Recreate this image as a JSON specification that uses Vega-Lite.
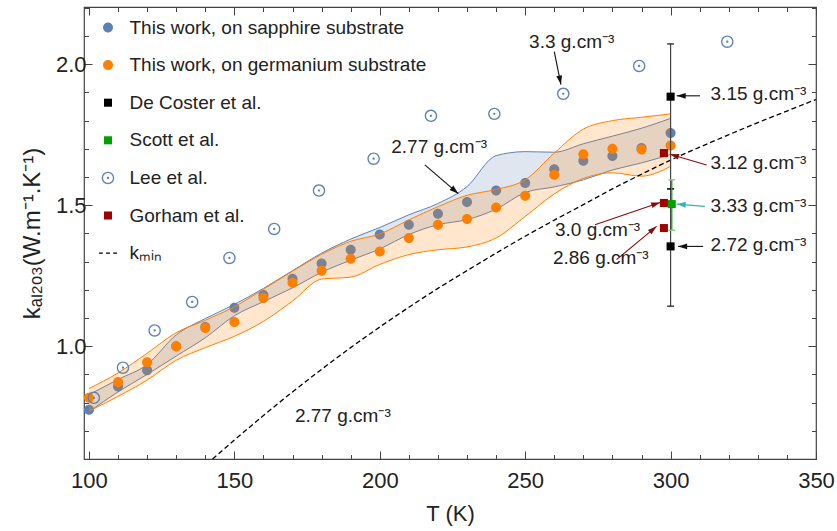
{
  "$schema": "https://vega.github.io/schema/vega-lite/v6.json",
  "width": 732,
  "height": 452,
  "autosize": {"type": "none"},
  "padding": {"left": 84, "top": 7, "right": 21, "bottom": 72},
  "config": {
    "view": {"stroke": "#444", "strokeWidth": 1.2},
    "font": "Liberation Sans",
    "legend": {
      "orient": "none",
      "legendX": 14.5,
      "legendY": 11,
      "labelFont": "Liberation Sans",
      "labelFontSize": 19,
      "labelColor": "#222",
      "labelLimit": 500,
      "labelOffset": 12,
      "rowPadding": 17.6,
      "symbolSize": 169,
      "symbolStrokeWidth": 0,
      "symbolOpacity": 1
    },
    "text": {"font": "Liberation Sans"}
  },
  "datasets": {
    "sap": [
      {"T": 100, "k": 0.775, "lo": 0.768, "hi": 0.828},
      {"T": 110, "k": 0.857, "lo": 0.838, "hi": 0.882},
      {"T": 120, "k": 0.915, "lo": 0.900, "hi": 0.935},
      {"T": 130, "k": 1.000, "lo": 0.965, "hi": 1.040},
      {"T": 140, "k": 1.068, "lo": 1.030, "hi": 1.098},
      {"T": 150, "k": 1.136, "lo": 1.108, "hi": 1.148},
      {"T": 160, "k": 1.182, "lo": 1.158, "hi": 1.205},
      {"T": 170, "k": 1.239, "lo": 1.207, "hi": 1.268},
      {"T": 180, "k": 1.293, "lo": 1.262, "hi": 1.330},
      {"T": 190, "k": 1.342, "lo": 1.305, "hi": 1.380},
      {"T": 200, "k": 1.396, "lo": 1.345, "hi": 1.421},
      {"T": 210, "k": 1.431, "lo": 1.396, "hi": 1.466},
      {"T": 220, "k": 1.470, "lo": 1.431, "hi": 1.506},
      {"T": 230, "k": 1.511, "lo": 1.449, "hi": 1.566},
      {"T": 240, "k": 1.552, "lo": 1.486, "hi": 1.676},
      {"T": 250, "k": 1.579, "lo": 1.545, "hi": 1.690},
      {"T": 260, "k": 1.628, "lo": 1.565, "hi": 1.688},
      {"T": 270, "k": 1.658, "lo": 1.590, "hi": 1.718},
      {"T": 280, "k": 1.675, "lo": 1.625, "hi": 1.745},
      {"T": 290, "k": 1.703, "lo": 1.650, "hi": 1.773},
      {"T": 300, "k": 1.756, "lo": 1.680, "hi": 1.808}
    ],
    "ger": [
      {"T": 100, "k": 0.817, "lo": 0.770, "hi": 0.850},
      {"T": 110, "k": 0.873, "lo": 0.822, "hi": 0.905},
      {"T": 120, "k": 0.943, "lo": 0.880, "hi": 0.975},
      {"T": 130, "k": 1.000, "lo": 0.950, "hi": 1.048},
      {"T": 140, "k": 1.065, "lo": 0.995, "hi": 1.092},
      {"T": 150, "k": 1.086, "lo": 1.035, "hi": 1.140},
      {"T": 160, "k": 1.171, "lo": 1.088, "hi": 1.202},
      {"T": 170, "k": 1.225, "lo": 1.160, "hi": 1.266},
      {"T": 180, "k": 1.268, "lo": 1.238, "hi": 1.326},
      {"T": 190, "k": 1.310, "lo": 1.245, "hi": 1.372},
      {"T": 200, "k": 1.336, "lo": 1.290, "hi": 1.398},
      {"T": 210, "k": 1.384, "lo": 1.325, "hi": 1.448},
      {"T": 220, "k": 1.431, "lo": 1.342, "hi": 1.495},
      {"T": 230, "k": 1.451, "lo": 1.352, "hi": 1.535},
      {"T": 240, "k": 1.492, "lo": 1.384, "hi": 1.556},
      {"T": 250, "k": 1.534, "lo": 1.460, "hi": 1.590},
      {"T": 260, "k": 1.608, "lo": 1.540, "hi": 1.685},
      {"T": 270, "k": 1.681, "lo": 1.595, "hi": 1.770},
      {"T": 280, "k": 1.700, "lo": 1.615, "hi": 1.800},
      {"T": 290, "k": 1.698, "lo": 1.603, "hi": 1.812},
      {"T": 300, "k": 1.712, "lo": 1.638, "hi": 1.824}
    ],
    "kmin": [
      {"T": 142.5, "k": 0.600}, {"T": 150, "k": 0.667}, {"T": 160, "k": 0.754},
      {"T": 170, "k": 0.838}, {"T": 180, "k": 0.918}, {"T": 190, "k": 0.995},
      {"T": 200, "k": 1.068}, {"T": 210, "k": 1.138}, {"T": 220, "k": 1.205},
      {"T": 230, "k": 1.268}, {"T": 240, "k": 1.330}, {"T": 250, "k": 1.390},
      {"T": 260, "k": 1.447}, {"T": 270, "k": 1.502}, {"T": 280, "k": 1.558},
      {"T": 290, "k": 1.610}, {"T": 300, "k": 1.660}, {"T": 310, "k": 1.706},
      {"T": 320, "k": 1.750}, {"T": 330, "k": 1.793}, {"T": 340, "k": 1.834},
      {"T": 350, "k": 1.875}
    ],
    "lee": [
      {"T": 101.7, "k": 0.817}, {"T": 111.7, "k": 0.924}, {"T": 122.6, "k": 1.056},
      {"T": 135.5, "k": 1.157}, {"T": 148.3, "k": 1.313}, {"T": 163.7, "k": 1.416},
      {"T": 179.1, "k": 1.552}, {"T": 197.9, "k": 1.665}, {"T": 217.6, "k": 1.817},
      {"T": 239.4, "k": 1.824}, {"T": 263.1, "k": 1.895}, {"T": 289.2, "k": 1.994},
      {"T": 319.5, "k": 2.080}
    ],
    "decoster": [
      {"T": 300, "k": 1.885, "lo": 1.558, "hi": 2.072},
      {"T": 300, "k": 1.354, "lo": 1.142, "hi": 1.558}
    ],
    "scott": [
      {"T": 300.4, "k": 1.504, "lo": 1.411, "hi": 1.590}
    ],
    "gorham": [
      {"T": 297.7, "k": 1.685}, {"T": 297.7, "k": 1.508}, {"T": 297.7, "k": 1.419}
    ],
    "arrows": [
      {"x1": 260.0, "y1": 2.045, "x2": 262.3, "y2": 1.928, "to": "Lee"},
      {"x1": 215.5, "y1": 1.643, "x2": 227.0, "y2": 1.541, "to": "sapphire"},
      {"x1": 310.1, "y1": 1.888, "x2": 302.1, "y2": 1.888, "to": "De Coster"},
      {"x1": 311.2, "y1": 1.354, "x2": 302.6, "y2": 1.354, "to": "De Coster"},
      {"x1": 312.4, "y1": 1.643, "x2": 299.8, "y2": 1.681, "to": "Gorham"},
      {"x1": 274.0, "y1": 1.431, "x2": 296.4, "y2": 1.510, "to": "Gorham"},
      {"x1": 281.4, "y1": 1.307, "x2": 295.2, "y2": 1.425, "to": "Gorham"},
      {"x1": 311.8, "y1": 1.496, "x2": 302.1, "y2": 1.504, "to": "Scott"}
    ],
    "labels": [
      {"T": 266.0, "k": 2.080, "text": "3.3 g.cm⁻³"},
      {"T": 220.4, "k": 1.708, "text": "2.77 g.cm⁻³"},
      {"T": 330.2, "k": 1.896, "text": "3.15 g.cm⁻³"},
      {"T": 330.2, "k": 1.649, "text": "3.12 g.cm⁻³"},
      {"T": 330.2, "k": 1.496, "text": "3.33 g.cm⁻³"},
      {"T": 330.2, "k": 1.358, "text": "2.72 g.cm⁻³"},
      {"T": 274.9, "k": 1.413, "text": "3.0 g.cm⁻³"},
      {"T": 276.0, "k": 1.313, "text": "2.86 g.cm⁻³"},
      {"T": 187.3, "k": 0.752, "text": "2.77 g.cm⁻³"}
    ]
  },
  "layer": [
    {
      "encoding": {
        "x": {
          "field": "T", "type": "quantitative",
          "scale": {"domain": [98.3, 350], "nice": false, "zero": false},
          "axis": {
            "values": [100,110,120,130,140,150,160,170,180,190,200,210,220,230,240,250,260,270,280,290,300,310,320,330,340,350],
            "title": "T (K)",
            "format": "d",
            "labelExpr": "datum.value % 50 === 0 ? datum.label : ''",
            "tickSize": {"condition": {"test": "datum.value % 50 === 0", "value": -8}, "value": -4.5},
            "tickColor": "#444",
            "tickWidth": 1,
            "domain": false,
            "grid": false,
            "labelFlush": false,
            "labelOverlap": false,
            "labelFont": "Liberation Sans",
            "labelFontSize": 22,
            "labelColor": "#222",
            "labelPadding": 19,
            "titleFont": "Liberation Sans",
            "titleFontSize": 22,
            "titleFontWeight": "normal",
            "titleColor": "#222",
            "titlePadding": 9
          }
        },
        "y": {
          "field": "k", "type": "quantitative",
          "scale": {"domain": [0.6, 2.203], "nice": false, "zero": false},
          "axis": {
            "values": [0.7,0.8,0.9,1.0,1.1,1.2,1.3,1.4,1.5,1.6,1.7,1.8,1.9,2.0,2.1,2.2],
            "title": "kₐₗ₂ₒ₃(W.m⁻¹.K⁻¹)",
            "labelExpr": "round(datum.value*10) % 5 === 0 ? format(datum.value, '.1f') : ''",
            "tickSize": {"condition": {"test": "round(datum.value*10) % 5 === 0", "value": -8}, "value": -4.5},
            "tickColor": "#444",
            "tickWidth": 1,
            "domain": false,
            "grid": false,
            "labelFlush": false,
            "labelOverlap": false,
            "labelFont": "Liberation Sans",
            "labelFontSize": 22,
            "labelColor": "#222",
            "labelPadding": 6,
            "titleFont": "Liberation Sans",
            "titleFontSize": 24,
            "titleFontWeight": "normal",
            "titleColor": "#222",
            "titlePadding": 11
          }
        }
      },
      "layer": [
        {
          "data": {"name": "sap"},
          "mark": {"type": "area", "color": "#5E81B5", "opacity": 0.2, "interpolate": "monotone"},
          "encoding": {"y": {"field": "lo", "type": "quantitative"}, "y2": {"field": "hi"}}
        },
        {
          "data": {"name": "sap"},
          "mark": {"type": "line", "color": "#5E81B5", "strokeWidth": 1, "interpolate": "monotone"},
          "encoding": {"y": {"field": "lo", "type": "quantitative"}}
        },
        {
          "data": {"name": "sap"},
          "mark": {"type": "line", "color": "#5E81B5", "strokeWidth": 1, "interpolate": "monotone"},
          "encoding": {"y": {"field": "hi", "type": "quantitative"}}
        },
        {
          "data": {"name": "sap"},
          "mark": {"type": "point", "filled": true, "size": 169, "opacity": 1},
          "encoding": {
            "color": {
              "datum": "This work, on sapphire substrate", "type": "nominal", "title": null,
              "scale": {
                "domain": ["This work, on sapphire substrate", "This work, on germanium substrate", "De Coster et al.", "Scott et al.", "Lee et al.", "Gorham et al.", "kₘᵢₙ"],
                "range": ["#5E81B5", "#FF8000", "#000000", "#00A000", "#5E81B5", "#A00000", "#000000"]
              }
            },
            "shape": {
              "datum": "This work, on sapphire substrate", "type": "nominal", "title": null,
              "scale": {
                "domain": ["This work, on sapphire substrate", "This work, on germanium substrate", "De Coster et al.", "Scott et al.", "Lee et al.", "Gorham et al.", "kₘᵢₙ"],
                "range": [
                  "M0.77,0A0.77,0.77,0,1,1,-0.77,0A0.77,0.77,0,1,1,0.77,0Z",
                  "M0.77,0A0.77,0.77,0,1,1,-0.77,0A0.77,0.77,0,1,1,0.77,0Z",
                  "M-0.62,-0.62H0.62V0.62H-0.62Z",
                  "M-0.62,-0.62H0.62V0.62H-0.62Z",
                  "M0.96,0A0.96,0.96,0,1,1,-0.96,0A0.96,0.96,0,1,1,0.96,0ZM0.75,0A0.75,0.75,0,1,0,-0.75,0A0.75,0.75,0,1,0,0.75,0ZM0.18,0A0.18,0.18,0,1,1,-0.18,0A0.18,0.18,0,1,1,0.18,0Z",
                  "M-0.62,-0.62H0.62V0.62H-0.62Z",
                  "M-1.38,-0.1H-0.8V0.1H-1.38ZM-0.3,-0.1H0.3V0.1H-0.3ZM0.8,-0.1H1.38V0.1H0.8Z"
                ]
              }
            }
          }
        },
        {
          "data": {"name": "ger"},
          "mark": {"type": "area", "color": "#FF8000", "opacity": 0.2, "interpolate": "monotone"},
          "encoding": {"y": {"field": "lo", "type": "quantitative"}, "y2": {"field": "hi"}}
        },
        {
          "data": {"name": "ger"},
          "mark": {"type": "line", "color": "#FF8000", "strokeWidth": 1, "interpolate": "monotone"},
          "encoding": {"y": {"field": "lo", "type": "quantitative"}}
        },
        {
          "data": {"name": "ger"},
          "mark": {"type": "line", "color": "#FF8000", "strokeWidth": 1, "interpolate": "monotone"},
          "encoding": {"y": {"field": "hi", "type": "quantitative"}}
        },
        {
          "data": {"name": "ger"},
          "mark": {"type": "point", "filled": true, "size": 169, "opacity": 1},
          "encoding": {
            "color": {"datum": "This work, on germanium substrate", "type": "nominal", "title": null},
            "shape": {"datum": "This work, on germanium substrate", "type": "nominal", "title": null}
          }
        },
        {
          "data": {"name": "kmin"},
          "mark": {"type": "line", "color": "#000", "strokeWidth": 1.3, "strokeDash": [5, 3], "interpolate": "monotone", "clip": true},
          "encoding": {}
        },
        {
          "data": {"name": "lee"},
          "mark": {"type": "point", "filled": true, "size": 169, "opacity": 1},
          "encoding": {
            "color": {"datum": "Lee et al.", "type": "nominal", "title": null},
            "shape": {"datum": "Lee et al.", "type": "nominal", "title": null}
          }
        },
        {
          "data": {"name": "decoster"},
          "mark": {"type": "rule", "color": "#444", "strokeWidth": 1.2},
          "encoding": {"y": {"field": "lo", "type": "quantitative"}, "y2": {"field": "hi"}}
        },
        {
          "data": {"name": "decoster"},
          "mark": {"type": "point", "shape": "stroke", "size": 49, "filled": false, "color": "#111", "strokeWidth": 1.2, "opacity": 1},
          "encoding": {"y": {"field": "lo", "type": "quantitative"}}
        },
        {
          "data": {"name": "decoster"},
          "mark": {"type": "point", "shape": "stroke", "size": 49, "filled": false, "color": "#111", "strokeWidth": 1.2, "opacity": 1},
          "encoding": {"y": {"field": "hi", "type": "quantitative"}}
        },
        {
          "data": {"name": "scott"},
          "mark": {"type": "rule", "color": "#2E9E2E", "strokeWidth": 1.4},
          "encoding": {"y": {"field": "lo", "type": "quantitative"}, "y2": {"field": "hi"}}
        },
        {
          "data": {"name": "scott"},
          "mark": {"type": "point", "shape": "stroke", "size": 49, "filled": false, "color": "#7FD67F", "strokeWidth": 1.4, "opacity": 1},
          "encoding": {"y": {"field": "lo", "type": "quantitative"}}
        },
        {
          "data": {"name": "scott"},
          "mark": {"type": "point", "shape": "stroke", "size": 49, "filled": false, "color": "#7FD67F", "strokeWidth": 1.4, "opacity": 1},
          "encoding": {"y": {"field": "hi", "type": "quantitative"}}
        },
        {
          "data": {"name": "decoster"},
          "mark": {"type": "point", "filled": true, "size": 169, "opacity": 1},
          "encoding": {
            "color": {"datum": "De Coster et al.", "type": "nominal", "title": null},
            "shape": {"datum": "De Coster et al.", "type": "nominal", "title": null}
          }
        },
        {
          "data": {"name": "scott"},
          "mark": {"type": "point", "filled": true, "size": 169, "opacity": 1},
          "encoding": {
            "color": {"datum": "Scott et al.", "type": "nominal", "title": null},
            "shape": {"datum": "Scott et al.", "type": "nominal", "title": null}
          }
        },
        {
          "data": {"name": "gorham"},
          "mark": {"type": "point", "filled": true, "size": 169, "opacity": 1},
          "encoding": {
            "color": {"datum": "Gorham et al.", "type": "nominal", "title": null},
            "shape": {"datum": "Gorham et al.", "type": "nominal", "title": null}
          }
        },
        {
          "data": {"name": "arrows"},
          "transform": [
            {"calculate": "atan2((datum.x2 - datum.x1) * 2.908, (datum.y2 - datum.y1) * 282.4) * 180 / PI", "as": "ang"}
          ],
          "layer": [
            {
              "transform": [{"filter": "datum.to !== 'Gorham' && datum.to !== 'Scott'"}],
              "layer": [
                {
                  "mark": {"type": "rule", "color": "#111", "strokeWidth": 1.1},
                  "encoding": {
                    "x": {"field": "x1", "type": "quantitative"}, "y": {"field": "y1", "type": "quantitative"},
                    "x2": {"field": "x2"}, "y2": {"field": "y2"}
                  }
                },
                {
                  "mark": {"type": "point", "shape": "M0,0L0.32,1L-0.32,1Z", "size": 324, "filled": true, "color": "#111", "opacity": 1},
                  "encoding": {
                    "x": {"field": "x2", "type": "quantitative"}, "y": {"field": "y2", "type": "quantitative"},
                    "angle": {"field": "ang", "type": "quantitative", "scale": null}
                  }
                }
              ]
            },
            {
              "transform": [{"filter": "datum.to === 'Gorham'"}],
              "layer": [
                {
                  "mark": {"type": "rule", "color": "#8B0A0A", "strokeWidth": 1.1},
                  "encoding": {
                    "x": {"field": "x1", "type": "quantitative"}, "y": {"field": "y1", "type": "quantitative"},
                    "x2": {"field": "x2"}, "y2": {"field": "y2"}
                  }
                },
                {
                  "mark": {"type": "point", "shape": "M0,0L0.32,1L-0.32,1Z", "size": 324, "filled": true, "color": "#8B0A0A", "opacity": 1},
                  "encoding": {
                    "x": {"field": "x2", "type": "quantitative"}, "y": {"field": "y2", "type": "quantitative"},
                    "angle": {"field": "ang", "type": "quantitative", "scale": null}
                  }
                }
              ]
            },
            {
              "transform": [{"filter": "datum.to === 'Scott'"}],
              "layer": [
                {
                  "mark": {"type": "rule", "color": "#2EB5B5", "strokeWidth": 1.1},
                  "encoding": {
                    "x": {"field": "x1", "type": "quantitative"}, "y": {"field": "y1", "type": "quantitative"},
                    "x2": {"field": "x2"}, "y2": {"field": "y2"}
                  }
                },
                {
                  "mark": {"type": "point", "shape": "M0,0L0.32,1L-0.32,1Z", "size": 324, "filled": true, "color": "#2EB5B5", "opacity": 1},
                  "encoding": {
                    "x": {"field": "x2", "type": "quantitative"}, "y": {"field": "y2", "type": "quantitative"},
                    "angle": {"field": "ang", "type": "quantitative", "scale": null}
                  }
                }
              ]
            }
          ]
        },
        {
          "data": {"name": "labels"},
          "mark": {"type": "text", "fontSize": 19, "color": "#222", "align": "center", "baseline": "middle"},
          "encoding": {"text": {"field": "text"}}
        }
      ]
    },
    {
      "data": {"name": "lee"},
      "mark": {"type": "point", "opacity": 0},
      "encoding": {
        "x": {
          "field": "T", "type": "quantitative",
          "axis": {
            "orient": "top",
            "values": [100,110,120,130,140,150,160,170,180,190,200,210,220,230,240,250,260,270,280,290,300,310,320,330,340,350],
            "labels": false, "title": null, "domain": false, "grid": false,
            "tickSize": {"condition": {"test": "datum.value % 50 === 0", "value": -8}, "value": -4.5},
            "tickColor": "#444"
          }
        },
        "y": {
          "field": "k", "type": "quantitative",
          "axis": {
            "orient": "right",
            "values": [0.7,0.8,0.9,1.0,1.1,1.2,1.3,1.4,1.5,1.6,1.7,1.8,1.9,2.0,2.1,2.2],
            "labels": false, "title": null, "domain": false, "grid": false,
            "tickSize": {"condition": {"test": "round(datum.value*10) % 5 === 0", "value": -8}, "value": -4.5},
            "tickColor": "#444"
          }
        }
      }
    }
  ],
  "resolve": {"axis": {"x": "independent", "y": "independent"}}
}
